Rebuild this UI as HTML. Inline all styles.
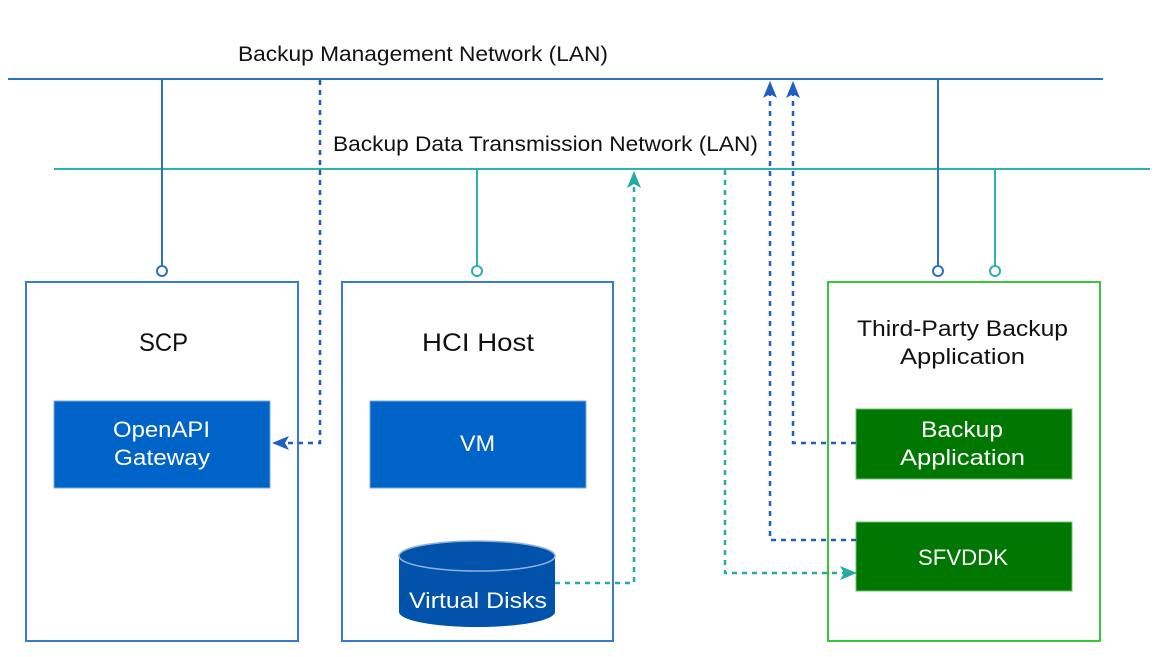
<!DOCTYPE html>
<html><head><style>body{margin:0;background:#fff}svg{display:block}text{font-family:"Liberation Sans",sans-serif}</style></head><body>
<svg width="1161" height="657" viewBox="0 0 1161 657" xmlns="http://www.w3.org/2000/svg">
<line x1="8" y1="79" x2="1103" y2="79" stroke="#2f6fbf" stroke-width="2"/>
<line x1="54" y1="169" x2="1150" y2="169" stroke="#2bb3b0" stroke-width="2"/>
<g fill="#111" font-size="21">
<text x="238" y="61" textLength="370" lengthAdjust="spacingAndGlyphs">Backup Management Network (LAN)</text>
<text x="333" y="151" textLength="425" lengthAdjust="spacingAndGlyphs">Backup Data Transmission Network (LAN)</text>
</g>
<g fill="#fff" stroke-width="2">
<rect x="26" y="282" width="272" height="359" stroke="#3c7bcb"/>
<rect x="342" y="282" width="271" height="359" stroke="#3c7bcb"/>
<rect x="828" y="282" width="272" height="359" stroke="#3cc43c"/>
</g>
<g stroke-width="2" fill="#fff">
<line x1="162" y1="79" x2="162" y2="266" stroke="#2f6fbf"/><circle cx="162" cy="271" r="5" stroke="#2f6fbf"/>
<line x1="477" y1="169" x2="477" y2="266" stroke="#2bb3b0"/><circle cx="477" cy="271" r="5" stroke="#2bb3b0"/>
<line x1="938" y1="79" x2="938" y2="266" stroke="#2f6fbf"/><circle cx="938" cy="271" r="5" stroke="#2f6fbf"/>
<line x1="995" y1="169" x2="995" y2="266" stroke="#2bb3b0"/><circle cx="995" cy="271" r="5" stroke="#2bb3b0"/>
</g>
<text x="139" y="351" font-size="25" fill="#111" textLength="49" lengthAdjust="spacingAndGlyphs">SCP</text>
<text x="422" y="351" font-size="25" fill="#111" textLength="112" lengthAdjust="spacingAndGlyphs">HCI Host</text>
<text x="857" y="336" font-size="22" fill="#111" textLength="211" lengthAdjust="spacingAndGlyphs">Third-Party Backup</text>
<text x="900" y="364" font-size="22" fill="#111" textLength="125" lengthAdjust="spacingAndGlyphs">Application</text>
<rect x="54" y="401" width="216" height="87" fill="#0063c8" stroke="#7aa8e0"/>
<text x="113" y="437" font-size="22" fill="#fff" textLength="97" lengthAdjust="spacingAndGlyphs">OpenAPI</text>
<text x="114" y="465" font-size="22" fill="#fff" textLength="96" lengthAdjust="spacingAndGlyphs">Gateway</text>
<rect x="370" y="401" width="216" height="87" fill="#0063c8" stroke="#7aa8e0"/>
<text x="460" y="451" font-size="22" fill="#fff" textLength="35" lengthAdjust="spacingAndGlyphs">VM</text>
<rect x="856" y="409" width="216" height="70" fill="#007700" stroke="#6cc46c"/>
<text x="921" y="437" font-size="22" fill="#fff" textLength="82" lengthAdjust="spacingAndGlyphs">Backup</text>
<text x="900" y="465" font-size="22" fill="#fff" textLength="125" lengthAdjust="spacingAndGlyphs">Application</text>
<rect x="856" y="522" width="216" height="69" fill="#007700" stroke="#6cc46c"/>
<text x="918" y="565" font-size="22" fill="#fff" textLength="90" lengthAdjust="spacingAndGlyphs">SFVDDK</text>
<path d="M399,556 L399,612 A78,15 0 0 0 555,612 L555,556 Z" fill="#0052aa"/>
<ellipse cx="477" cy="556" rx="78" ry="15" fill="#0052aa" stroke="#8fb0dd" stroke-width="1.5"/>
<text x="409" y="608" font-size="22" fill="#fff" textLength="138" lengthAdjust="spacingAndGlyphs">Virtual Disks</text>
<g fill="none" stroke-width="2.5" stroke-dasharray="5,5">
<path d="M320,80 L320,443 L284,443" stroke="#1f5fbf"/>
<path d="M555,583 L634,583 L634,184" stroke="#26aaa6"/>
<path d="M856,540 L770,540 L770,94" stroke="#1f5fbf"/>
<path d="M856,443 L793,443 L793,94" stroke="#1f5fbf"/>
<path d="M725,170 L725,573 L845,573" stroke="#26aaa6"/>
</g>
<g fill="#1f5fbf">
<polygon points="272,443 289,436 285,443 289,450"/>
<polygon points="770,81 763,98 770,94 777,98"/>
<polygon points="793,81 786,98 793,94 800,98"/>
</g>
<g fill="#26aaa6">
<polygon points="634,171 627,188 634,184 641,188"/>
<polygon points="857,573 840,566 844,573 840,580"/>
</g>
</svg>
</body></html>
